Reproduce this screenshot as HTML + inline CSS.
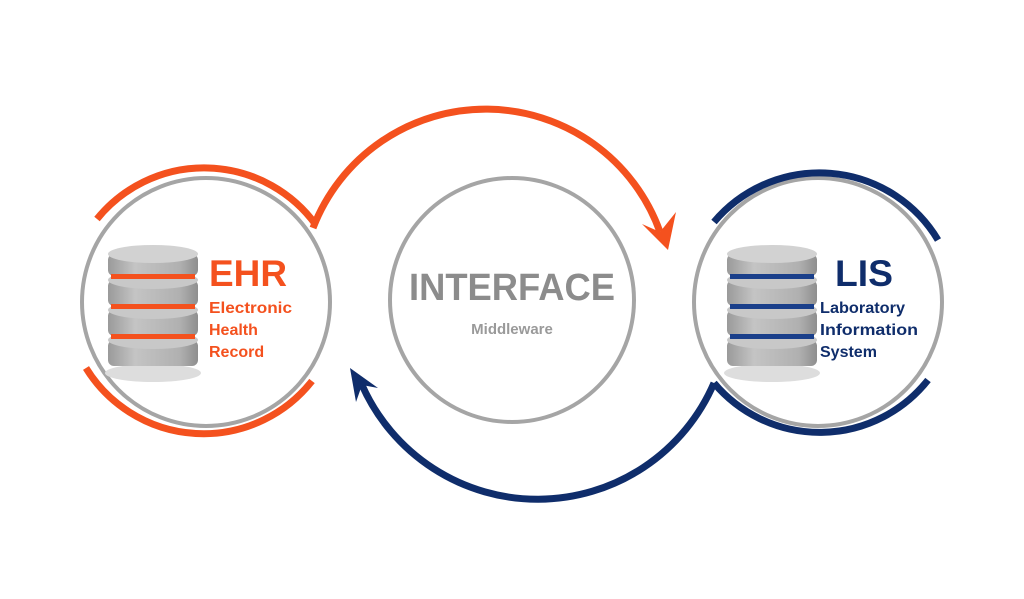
<!DOCTYPE html>
<html><head><meta charset="utf-8"><style>
html,body{margin:0;padding:0;background:#fff;}
svg{display:block}
text{font-family:"Liberation Sans","DejaVu Sans",sans-serif;font-weight:bold}
</style></head><body>
<svg width="1024" height="599" viewBox="0 0 1024 599" xmlns="http://www.w3.org/2000/svg">
<defs>
<linearGradient id="g" x1="0" x2="1" y1="0" y2="0">
<stop offset="0" stop-color="#9a9a9a"/><stop offset="0.3" stop-color="#c4c4c4"/><stop offset="0.8" stop-color="#b0b0b0"/><stop offset="1" stop-color="#8e8e8e"/>
</linearGradient>
<g id="db">
<ellipse cx="45" cy="128" rx="48" ry="9" fill="#ddd"/>
<rect x="0" y="95" width="90" height="26" rx="6" fill="url(#g)"/><ellipse cx="45" cy="95" rx="45" ry="9" fill="#c8c8c8"/>
<rect x="0" y="65" width="90" height="26" rx="6" fill="url(#g)"/><ellipse cx="45" cy="65" rx="45" ry="9" fill="#c8c8c8"/>
<rect x="0" y="35" width="90" height="26" rx="6" fill="url(#g)"/><ellipse cx="45" cy="35" rx="45" ry="9" fill="#c8c8c8"/>
<rect x="0" y="9" width="90" height="22" rx="6" fill="url(#g)"/><ellipse cx="45" cy="9" rx="45" ry="9" fill="#d2d2d2"/>
</g>
</defs>

<circle cx="206" cy="302" r="124" fill="none" stroke="#a5a5a5" stroke-width="4"/>
<circle cx="512" cy="300" r="122" fill="none" stroke="#a5a5a5" stroke-width="4"/>
<circle cx="818" cy="302" r="124" fill="none" stroke="#a5a5a5" stroke-width="4"/>

<g fill="none" stroke="#f4511e" stroke-width="7">
<path d="M97 219 A138 138 0 0 1 316 225"/>
<path d="M86 368 A138 138 0 0 0 312 381"/>
<path d="M313 228 A185 185 0 0 1 660 232"/>
</g>
<polygon points="668,250 642,224 660,232 676,212" fill="#f4511e"/>

<g fill="none" stroke="#0f2d6b" stroke-width="7">
<path d="M714 222 A138 138 0 0 1 938 240"/>
<path d="M714 383 A138 138 0 0 0 928 380"/>
<path d="M714 383 A192 192 0 0 1 362 385"/>
</g>
<polygon points="350,368 378,388 362,385 356,402" fill="#0f2d6b"/>

<use href="#db" x="108" y="245"/>
<g transform="translate(108,245)" fill="#f4511e">
<rect x="3" y="29" width="84" height="5"/><rect x="3" y="59" width="84" height="5"/><rect x="3" y="89" width="84" height="5"/>
</g>
<use href="#db" x="727" y="245"/>
<g transform="translate(727,245)" fill="#1a3f8a">
<rect x="3" y="29" width="84" height="5"/><rect x="3" y="59" width="84" height="5"/><rect x="3" y="89" width="84" height="5"/>
</g>

<text x="209" y="286" font-size="37" fill="#f4511e" textLength="78" lengthAdjust="spacingAndGlyphs">EHR</text>
<text x="209" y="313" font-size="16" fill="#f4511e" textLength="83" lengthAdjust="spacingAndGlyphs">Electronic</text>
<text x="209" y="335" font-size="16" fill="#f4511e">Health</text>
<text x="209" y="357" font-size="16" fill="#f4511e">Record</text>

<text x="512" y="300" font-size="38" fill="#8c8c8c" text-anchor="middle" textLength="206" lengthAdjust="spacingAndGlyphs">INTERFACE</text>
<text x="512" y="334" font-size="15" fill="#9a9a9a" text-anchor="middle">Middleware</text>

<text x="835" y="286" font-size="37" fill="#0f2d6b" textLength="58" lengthAdjust="spacingAndGlyphs">LIS</text>
<text x="820" y="313" font-size="16" fill="#0f2d6b" textLength="85" lengthAdjust="spacingAndGlyphs">Laboratory</text>
<text x="820" y="335" font-size="16" fill="#0f2d6b" textLength="98" lengthAdjust="spacingAndGlyphs">Information</text>
<text x="820" y="357" font-size="16" fill="#0f2d6b">System</text>
</svg>
</body></html>
